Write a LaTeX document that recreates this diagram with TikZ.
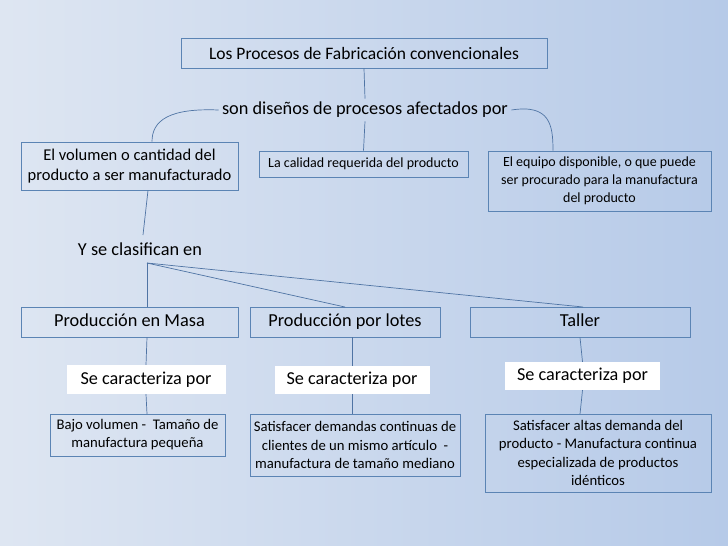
\documentclass[tikz,border=0pt]{standalone}
\usepackage{fontspec}
\setmainfont{Carlito}
\begin{document}
\begin{tikzpicture}[x=1pt,y=-1pt,
  bx/.style={draw=bord,line width=0.8pt,align=center,inner sep=2pt},
  hb/.style={bx,minimum height=30,text height=12.5pt,text depth=4pt,font=\fontsize{18.3}{20}\selectfont},
  wb/.style={fill=white,align=center,font=\fontsize{18.2}{20}\selectfont},
  ln/.style={draw=lnc,line width=0.7pt}]
\definecolor{bord}{HTML}{5B84B4}
\definecolor{lnc}{HTML}{4F74A4}
\useasboundingbox (0,0) rectangle (728,546);
\shade[left color={rgb,255:red,222;green,230;blue,242}, right color={rgb,255:red,182;green,202;blue,232}] (0,0) rectangle (728,546);
% boxes
\node[bx,minimum width=366,minimum height=30,font=\fontsize{17.5}{20}\selectfont] (t) at (364,53) {Los Procesos de Fabricación convencionales};
\node[font=\fontsize{18.3}{20}\selectfont] (s) at (365,110) {son diseños de procesos afectados por};
\node[bx,minimum width=217,minimum height=48,font=\fontsize{16.5}{20}\selectfont] (b1) at (129.5,166) {El volumen o cantidad del\\producto a ser manufacturado};
\node[bx,minimum width=209,minimum height=26,font=\fontsize{14}{17}\selectfont] (b2) at (363.5,164) {La calidad requerida del producto};
\node[bx,minimum width=223,minimum height=60,font=\fontsize{14}{18}\selectfont] (b3) at (599.5,181) {El equipo disponible, o que puede\\ser procurado para la manufactura\\del producto};
\node[font=\fontsize{18.3}{20}\selectfont] (y) at (140,249) {Y se clasifican en};
\coordinate (br) at (147,263);
\node[hb,minimum width=217] (m) at (129.5,322) {Producción en Masa};
\node[hb,minimum width=190] (l) at (345,322) {Producción por lotes};
\node[hb,minimum width=220] (ta) at (580,322) {Taller};
\node[wb,minimum width=159,minimum height=29] (c1) at (146,379.5) {Se caracteriza por};
\node[wb,minimum width=155,minimum height=28] (c2) at (352,380) {Se caracteriza por};
\node[wb,minimum width=155,minimum height=28] (c3) at (582.5,376) {Se caracteriza por};
\node[bx,minimum width=175,minimum height=42,font=\fontsize{14.7}{18}\selectfont] (d1) at (137.5,435) {Bajo volumen -\ \ Tamaño de\\manufactura pequeña};
\node[bx,minimum width=210,minimum height=62,font=\fontsize{14.7}{18.5}\selectfont] (d2) at (355,445) {Satisfacer demandas continuas de\\clientes de un mismo artículo\ \ -\\manufactura de tamaño mediano};
\node[bx,minimum width=226,minimum height=78,font=\fontsize{14.7}{18.5}\selectfont] (d3) at (598,453) {Satisfacer altas demanda del\\producto - Manufactura continua\\especializada de productos\\idénticos};
% connectors
\draw[ln] (t.south) -- (s.north);
\draw[ln] (s.south) -- (b2.north);
\draw[ln] (s.west) .. controls (170,108) and (152,120) .. ([xshift=22.5]b1.north);
\draw[ln] (s.east) .. controls (550,104) and (553,125) .. ([xshift=-46.5]b3.north);
\draw[ln] ([xshift=18.5]b1.south) -- (143,235);
\draw[ln] (br) -- (147,307);
\draw[ln] (br) -- (345,307);
\draw[ln] (br) -- (583,307);
\draw[ln] ([xshift=17.5]m.south) -- (c1.north);
\draw[ln] (c1.south) -- (147,414);
\draw[ln] ([xshift=7]l.south) -- (c2.north);
\draw[ln] (c2.south) -- (352,414);
\draw[ln] (ta.south) -- (c3.north);
\draw[ln] (c3.south) -- (580,414);
\end{tikzpicture}
\end{document}
